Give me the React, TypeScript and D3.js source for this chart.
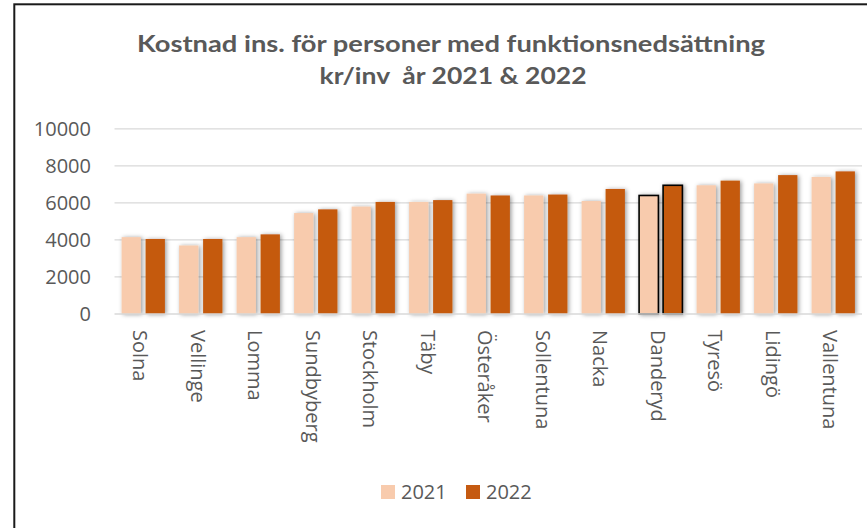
import { useRef, useEffect } from "react";
import * as d3 from "d3";

const categories = [
  "Solna",
  "Vellinge",
  "Lomma",
  "Sundbyberg",
  "Stockholm",
  "Täby",
  "Österåker",
  "Sollentuna",
  "Nacka",
  "Danderyd",
  "Tyresö",
  "Lidingö",
  "Vallentuna",
];
const values2021 = [4150, 3700, 4150, 5450, 5800, 6050, 6500, 6400, 6100, 6400, 6950, 7050, 7400];
const values2022 = [4050, 4050, 4300, 5650, 6050, 6150, 6400, 6450, 6750, 6950, 7200, 7500, 7700];
const seriesNames = ["2021", "2022"];
const seriesColors = ["#F8CBAD", "#C55A11"];
const yTicks = [0, 2000, 4000, 6000, 8000, 10000];
const highlighted = "Danderyd";
const titleLines = ["Kostnad ins. för personer med funktionsnedsättning", "kr/inv  år 2021 & 2022"];

const width = 867;
const height = 528;

const App = () => {
  const ref = useRef<SVGSVGElement>(null);

  useEffect(() => {
    if (!ref.current) return;
    const svg = d3.select(ref.current);
    svg.selectAll("*").remove();

    const textColor = "#595959";

    // shadow like Excel's outer shadow
    const defs = svg.append("defs");
    const filter = defs
      .append("filter")
      .attr("id", "barShadow")
      .attr("x", "-50%")
      .attr("y", "-10%")
      .attr("width", "200%")
      .attr("height", "120%");
    filter
      .append("feDropShadow")
      .attr("dx", 1.5)
      .attr("dy", 0.5)
      .attr("stdDeviation", 2)
      .attr("flood-color", "#000")
      .attr("flood-opacity", 0.4);

    // frame
    svg
      .append("rect")
      .attr("x", 14.3)
      .attr("y", 4.3)
      .attr("width", width + 20)
      .attr("height", height + 20)
      .attr("fill", "#fff")
      .attr("stroke", "#1a1a1a")
      .attr("stroke-width", 2);

    // title
    const titleY = [51.7, 84];
    const titleLen = [628, 267];
    const titleX = [451, 453];
    svg
      .selectAll(".title")
      .data(titleLines)
      .enter()
      .append("text")
      .attr("class", "title")
      .attr("x", (_, i) => titleX[i])
      .attr("y", (_, i) => titleY[i])
      .attr("text-anchor", "middle")
      .attr("textLength", (_, i) => titleLen[i])
      .attr("lengthAdjust", "spacingAndGlyphs")
      .style("white-space", "pre")
      .attr("font-family", "Lato, 'Open Sans', sans-serif")
      .attr("font-weight", "bold")
      .attr("font-size", "23px")
      .attr("fill", textColor)
      .text((d) => d);

    // scales
    const x0 = d3
      .scaleBand()
      .domain(categories)
      .range([114.5, 862])
      .paddingInner(0.247)
      .paddingOuter(0.1235);
    const x1 = d3
      .scaleBand()
      .domain(seriesNames)
      .range([0, x0.bandwidth()])
      .paddingInner(0.196);
    const y = d3.scaleLinear().domain([0, 10000]).range([314, 128.8]);

    // gridlines
    svg
      .selectAll(".grid")
      .data(yTicks.filter((t) => t > 0))
      .enter()
      .append("line")
      .attr("class", "grid")
      .attr("x1", 114.5)
      .attr("x2", 862)
      .attr("y1", (d) => y(d))
      .attr("y2", (d) => y(d))
      .attr("stroke", "#d9d9d9")
      .attr("stroke-width", 1.2);

    // y tick labels
    svg
      .selectAll(".ytick")
      .data(yTicks)
      .enter()
      .append("text")
      .attr("class", "ytick")
      .attr("x", 91)
      .attr("y", (d) => y(d))
      .attr("dy", "0.36em")
      .attr("text-anchor", "end")
      .attr("font-family", "'Open Sans', sans-serif")
      .attr("font-size", "20px")
      .attr("fill", textColor)
      .text((d) => d);

    // bars
    const rows = categories.map((c, i) => ({
      category: c,
      values: [values2021[i], values2022[i]],
    }));
    const groups = svg
      .append("g")
      .attr("filter", "url(#barShadow)")
      .selectAll(".group")
      .data(rows)
      .enter()
      .append("g")
      .attr("class", "group")
      .attr("transform", (d) => `translate(${x0(d.category)},0)`);
    groups
      .selectAll("rect")
      .data((d) =>
        d.values.map((v, j) => ({ v, series: seriesNames[j], j, hl: d.category === highlighted }))
      )
      .enter()
      .append("rect")
      .attr("x", (d) => x1(d.series) ?? 0)
      .attr("y", (d) => y(d.v))
      .attr("width", x1.bandwidth())
      .attr("height", (d) => y(0) - y(d.v))
      .attr("fill", (d) => seriesColors[d.j])
      .attr("stroke", (d) => (d.hl ? "#000" : "none"))
      .attr("stroke-width", 1.6);

    // x axis line
    svg
      .append("line")
      .attr("x1", 114.5)
      .attr("x2", 862)
      .attr("y1", y(0))
      .attr("y2", y(0))
      .attr("stroke", "#d9d9d9")
      .attr("stroke-width", 1.5);

    // category labels, rotated
    svg
      .selectAll(".xlabel")
      .data(categories)
      .enter()
      .append("text")
      .attr("class", "xlabel")
      .attr(
        "transform",
        (d) => `translate(${(x0(d) ?? 0) + x0.bandwidth() / 2},330) rotate(90)`
      )
      .attr("dy", "0.5em")
      .attr("font-family", "'Open Sans', sans-serif")
      .attr("font-size", "20px")
      .attr("fill", textColor)
      .text((d) => d);

    // legend
    const legendX = [381, 466];
    seriesNames.forEach((name, i) => {
      svg
        .append("rect")
        .attr("x", legendX[i])
        .attr("y", 485)
        .attr("width", 14)
        .attr("height", 14)
        .attr("fill", seriesColors[i]);
      svg
        .append("text")
        .attr("x", legendX[i] + 20)
        .attr("y", 499)
        .attr("font-family", "'Open Sans', sans-serif")
        .attr("font-size", "20px")
        .attr("fill", textColor)
        .text(name);
    });
  }, []);

  return (
    <div style={{ position: "absolute", left: 0, top: 0 }}>
      <svg ref={ref} width={width} height={height} style={{ display: "block" }} />
    </div>
  );
};

export default App;
